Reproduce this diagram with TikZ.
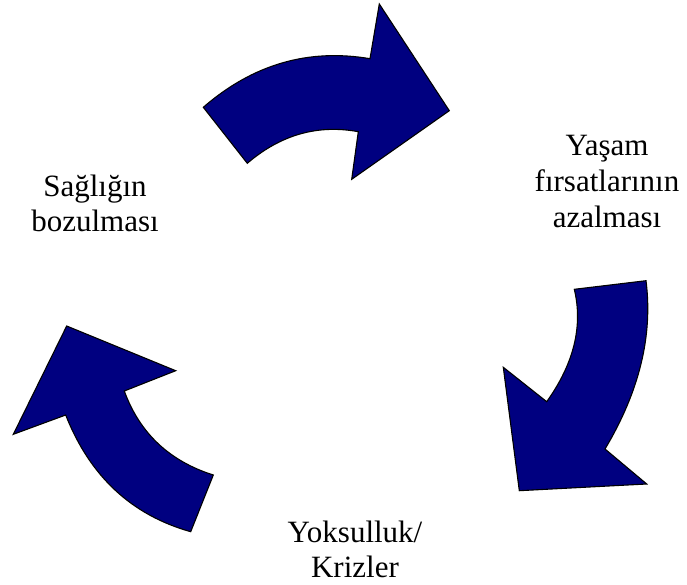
\documentclass[tikz,border=0pt]{standalone}
\usepackage{fontspec}
\setmainfont{Liberation Serif}
\definecolor{arrownavy}{RGB}{0,0,128}
\tikzset{
  cyclearrow/.style={fill=arrownavy, draw=black, line width=1.1pt, line join=miter},
  cyclelabel/.style={align=center, inner sep=0pt, anchor=base, font=\fontsize{31}{35.5}\selectfont}
}
\begin{document}
\begin{tikzpicture}[x=1pt,y=-1pt]
\useasboundingbox (0,0) rectangle (687,585);
% top arrow
\path[cyclearrow] (203.3,107.3) .. controls (252.7,64.4) and (308.2,48.2) .. (370,58.7)
  -- (379.3,4) -- (449.3,110.7) -- (351.7,179.3) -- (358.3,131.7)
  .. controls (317.6,124.2) and (280.6,134.8) .. (247.3,163.3) -- cycle;
% right arrow
\path[cyclearrow] (646,280.7) .. controls (653,335.6) and (639.3,391.7) .. (605,449)
  -- (646.7,484) -- (519.3,490.7) -- (503.3,367.3) -- (546.7,401.7)
  .. controls (573.9,363.6) and (583.1,326.1) .. (574.3,289.3) -- cycle;
% left arrow
\path[cyclearrow] (190.7,531.7) .. controls (131.4,515) and (89.8,476.1) .. (65.7,415)
  -- (13.3,434.3) -- (66.7,326) -- (175.7,370.7) -- (124.3,391)
  .. controls (139.6,433) and (169.2,461) .. (213.3,475) -- cycle;
% labels (base anchor = baseline of last line)
\node[cyclelabel] (saglik) at (95,231.7) {Sağlığın\\bozulması};
\node[cyclelabel] (yasam) at (607,227) {Yaşam\\fırsatlarının\\azalması};
\node[cyclelabel] (yoksul) at (355,577.7) {Yoksulluk/\\Krizler};
\end{tikzpicture}
\end{document}
